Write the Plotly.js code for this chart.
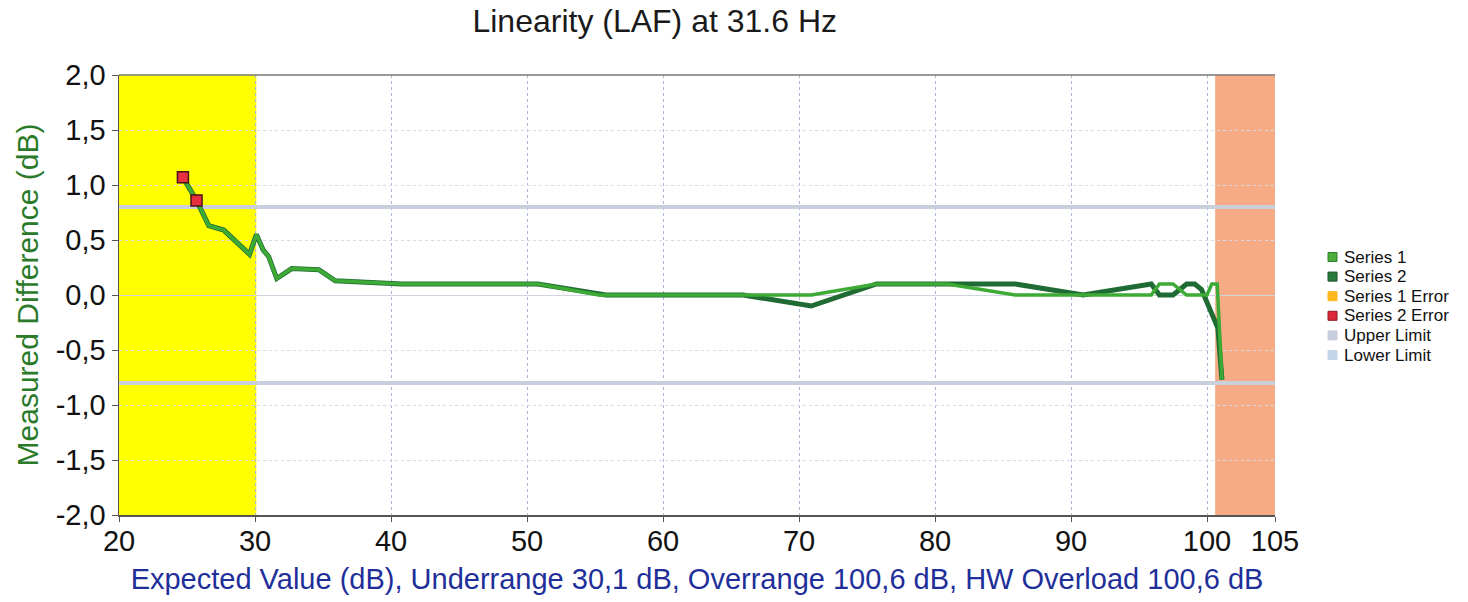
<!DOCTYPE html>
<html>
<head>
<meta charset="utf-8">
<script src="https://cdn.plot.ly/plotly-3.0.1.min.js"></script>
<style>html,body{margin:0;padding:0;background:#fff;}#chart{width:1468px;height:602px;}</style>
</head>
<body>
<div id="chart"></div>
<script>
// ---- data ----
const s1X = [24.7, 25.7, 26.6, 27.7, 29.6, 30.1, 30.6, 31.0, 31.6, 32.7, 34.7, 35.9, 40.8, 45.8, 50.8, 55.3, 60.8, 65.9, 70.9, 75.7, 80.9, 85.9, 90.9, 95.9, 96.5, 97.5, 98.5, 99.3, 100.0, 100.35, 100.75, 101.1];
const s1Y = [1.07, 0.86, 0.63, 0.59, 0.37, 0.55, 0.41, 0.35, 0.15, 0.24, 0.23, 0.13, 0.1, 0.1, 0.1, 0.0, 0.0, 0.0, 0.0, 0.1, 0.1, 0.0, 0.0, 0.0, 0.1, 0.1, 0.0, 0.0, 0.0, 0.1, 0.1, -0.77];
const s2X = [24.7, 25.7, 26.6, 27.7, 29.6, 30.1, 30.6, 31.0, 31.6, 32.7, 34.7, 35.9, 40.8, 45.8, 50.8, 55.8, 60.8, 65.9, 70.9, 75.7, 80.9, 85.9, 90.9, 95.9, 96.5, 97.5, 98.5, 99.1, 99.6, 100.8, 101.1];
const s2Y = [1.07, 0.86, 0.63, 0.59, 0.37, 0.55, 0.41, 0.35, 0.15, 0.24, 0.23, 0.13, 0.1, 0.1, 0.1, 0.0, 0.0, 0.0, -0.1, 0.1, 0.1, 0.1, 0.0, 0.1, 0.0, 0.0, 0.1, 0.1, 0.05, -0.3, -0.77];
const s2ErrX = [24.7, 25.7];
const s2ErrY = [1.07, 0.86];
const upperLimit = 0.8;
const lowerLimit = -0.8;
const underrange = 30.1;
const overrange = 100.6;
const xMin = 20, xMax = 105;
const xTicks = [20, 30, 40, 50, 60, 70, 80, 90, 100, 105];
const yTicks = [-2, -1.5, -1, -0.5, 0, 0.5, 1, 1.5, 2];
const yTickText = ["-2,0", "-1,5", "-1,0", "-0,5", "0,0", "0,5", "1,0", "1,5", "2,0"];
const legendNames = ["Series 1", "Series 2", "Series 1 Error", "Series 2 Error", "Upper Limit", "Lower Limit"];

const FONT = "Liberation Sans, Arial, sans-serif";
const C1 = "#3daa35", C2 = "#1f6b33";
const legendColors = ["#4caf3c", "#2a7a3e", "#ffb81c", "#e0283c", "#c8cedd", "#c4d6ea"];
const legendBorders = ["#2e7d2e", "#1a4d26", "#ffb81c", "#8a1a22", "#c8cedd", "#c4d6ea"];

const traces = [
  {x:[xMin,xMax], y:[upperLimit,upperLimit], mode:"lines", line:{color:"#c9cfdc", width:4}, showlegend:false, hoverinfo:"skip"},
  {x:[xMin,xMax], y:[lowerLimit,lowerLimit], mode:"lines", line:{color:"#c9cfdc", width:4}, showlegend:false, hoverinfo:"skip"},
  {x:s2X, y:s2Y, mode:"lines", line:{color:C2, width:5}, showlegend:false},
  {x:s1X, y:s1Y, mode:"lines", line:{color:C1, width:3.5}, showlegend:false},
  {x:s2ErrX, y:s2ErrY, mode:"markers", marker:{symbol:"square", size:11, color:"#e8303e", line:{color:"#4a1218", width:1.5}}, showlegend:false}
];

// legend drawn as shapes + text annotations
const L = 119, R = 1275, T = 75, B = 515;
const px2x = p => (p - L) / (R - L);
const py2y = p => (B - p) / (B - T);
const legendShapes = [], legendAnn = [];
legendNames.forEach((n, i) => {
  const cy = 257 + 19.6 * i;
  legendShapes.push({type:"rect", xref:"paper", yref:"paper", x0:px2x(1328), x1:px2x(1337), y0:py2y(cy+4.5), y1:py2y(cy-4.5),
    fillcolor:legendColors[i], line:{color:legendBorders[i], width:1}});
  legendAnn.push({xref:"paper", yref:"paper", x:px2x(1342), y:py2y(cy), xanchor:"left", yanchor:"middle", showarrow:false,
    text:n, font:{size:17, color:"#111", family:FONT}});
});

const layout = {
  width:1468, height:602,
  margin:{l:L, r:1468-R, t:T, b:602-B},
  paper_bgcolor:"#fff", plot_bgcolor:"#fff",
  separators:",.",
  font:{family:FONT, color:"#1a1a1a"},
  title:{text:"Linearity (LAF) at 31.6 Hz", font:{size:32, color:"#1a1a1a", family:FONT},
         xref:"container", yref:"container", x:0.446, xanchor:"center", y:0.965, yanchor:"middle"},
  xaxis:{range:[xMin,xMax], tickvals:xTicks, ticktext:xTicks.map(String), tickfont:{size:29, color:"#111"},
         showline:true, linecolor:"#555", linewidth:1.5, ticks:"outside", ticklen:5, tickcolor:"#555",
         ticklabelstandoff:-5,
         showgrid:true, gridcolor:"#aeb6d8", griddash:"dot", gridwidth:1, zeroline:false, mirror:false,
         title:{text:"Expected Value (dB), Underrange 30,1 dB, Overrange 100,6 dB, HW Overload 100,6 dB",
                font:{size:29, color:"#1f2f9a", family:FONT}, standoff:12}},
  yaxis:{range:[-2,2], tickvals:yTicks, ticktext:yTickText, tickfont:{size:29, color:"#111"},
         showline:true, linecolor:"#555", linewidth:1.5, ticks:"outside", ticklen:6, tickcolor:"#555",
         showgrid:true, gridcolor:"#d6dae6", griddash:"dot", gridwidth:1, zeroline:true, zerolinecolor:"#d0d4de", zerolinewidth:1,
         title:{text:"Measured Difference (dB)", font:{size:30, color:"#2a7a2a", family:FONT}, standoff:8}},
  shapes:[
    {type:"rect", xref:"x", yref:"paper", x0:xMin, x1:underrange, y0:0, y1:1, fillcolor:"#ffff00", line:{width:0}, layer:"below"},
    {type:"rect", xref:"x", yref:"paper", x0:overrange, x1:xMax, y0:0, y1:1, fillcolor:"#f7ab84", line:{width:0}, layer:"below"},
    {type:"line", xref:"paper", yref:"paper", x0:0, x1:1, y0:1, y1:1, line:{color:"#777", width:1.5}}
  ].concat(legendShapes),
  annotations:legendAnn,
  showlegend:false
};
Plotly.newPlot("chart", traces, layout, {displayModeBar:false, staticPlot:true});
</script>
</body>
</html>
